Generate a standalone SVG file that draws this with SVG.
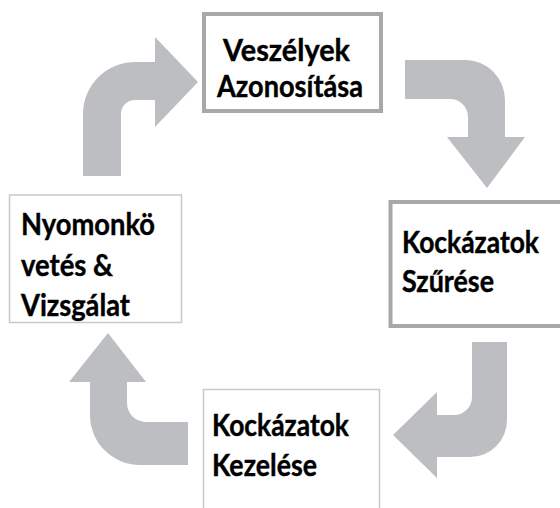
<svg xmlns="http://www.w3.org/2000/svg" width="560" height="508" viewBox="0 0 560 508">
<style>
.arrow{fill:#bdbec2;stroke:none}
.boxT{fill:#fff;stroke:#a8a8a8;stroke-width:4}
.boxt{fill:#fff;stroke:#c8c8c8;stroke-width:1.5}
.lbl{font-family:Lato,"Open Sans","Liberation Sans",sans-serif;font-weight:bold;font-size:30px;fill:#000;stroke:#000;stroke-width:0.4}
</style>
<rect width="560" height="508" fill="#fff"/>
<g id="connectors">
<path class="arrow" d="M83,176 L83,114 A52,52 0 0 1 135,62 L155,62 L155,37 L198,82 L155,127 L155,100 L135,100 A14,14 0 0 0 121,114 L121,176 Z"/>
<path class="arrow" d="M405,60 L465,60 A40,40 0 0 1 505,100 L505,137 L525,137 L487,188 L447,137 L468,137 L468,117 A18,18 0 0 0 450,99 L405,99 Z"/>
<path class="arrow" d="M472,342 L507,342 L507,420 A37,37 0 0 1 470,457 L437,457 L437,478 L393,435 L437,392 L437,415 L454,415 A18,18 0 0 0 472,397 Z"/>
<path class="arrow" d="M108,333 L146,382 L127,382 L127,403 A19,19 0 0 0 146,422 L188,422 L188,465 L140,465 A50,50 0 0 1 90,415 L90,382 L69,382 Z"/>
</g>
<g id="node-veszelyek">
<rect class="boxT" x="204" y="14" width="177" height="97"/>
<text class="lbl" x="223" y="61" textLength="127" lengthAdjust="spacingAndGlyphs">Veszélyek</text>
<text class="lbl" x="217" y="97" textLength="146" lengthAdjust="spacingAndGlyphs">Azonosítása</text>
</g>
<g id="node-szures">
<rect class="boxT" x="390.5" y="202" width="190" height="124"/>
<text class="lbl" x="402" y="253" textLength="137" lengthAdjust="spacingAndGlyphs">Kockázatok</text>
<text class="lbl" x="402" y="292" textLength="92" lengthAdjust="spacingAndGlyphs">Szűrése</text>
</g>
<g id="node-kezelese">
<rect class="boxt" x="203.5" y="389.5" width="176" height="140"/>
<text class="lbl" x="212" y="436" textLength="137" lengthAdjust="spacingAndGlyphs">Kockázatok</text>
<text class="lbl" x="212" y="476" textLength="105" lengthAdjust="spacingAndGlyphs">Kezelése</text>
</g>
<g id="node-nyomonkovetes">
<rect class="boxt" x="9.5" y="195" width="172" height="127.5"/>
<text class="lbl" x="21" y="235" textLength="134" lengthAdjust="spacingAndGlyphs">Nyomonkö</text>
<text class="lbl" x="21" y="276" textLength="92" lengthAdjust="spacingAndGlyphs">vetés &amp;</text>
<text class="lbl" x="21" y="316" textLength="109" lengthAdjust="spacingAndGlyphs">Vizsgálat</text>
</g>
</svg>
